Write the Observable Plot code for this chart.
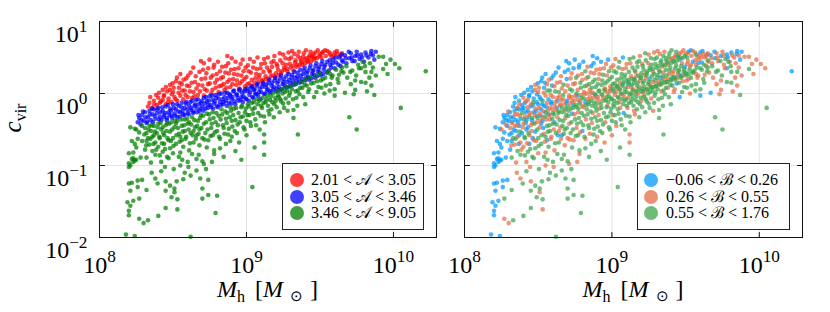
<!DOCTYPE html>
<html><head><meta charset="utf-8">
<script src="https://cdn.jsdelivr.net/npm/d3@7"></script>
<script src="https://cdn.jsdelivr.net/npm/@observablehq/plot@0.6"></script>
<style>
body{margin:0;background:#fff;}
#wrap{position:relative;width:830px;height:312px;overflow:hidden;font-family:"Liberation Serif","Times New Roman",serif;}
.panel{position:absolute;top:0;}
.legend{position:absolute;box-sizing:border-box;border:1.3px solid #222;background:#fff;font-size:16px;font-family:"Liberation Serif","Times New Roman",serif;color:#000;padding-top:8px;}
.row{height:16.5px;line-height:16.5px;position:relative;padding-left:28px;white-space:nowrap;}
.sw{position:absolute;top:1px;width:14px;height:14px;border-radius:50%;}
</style></head>
<body><div id="wrap"></div>
<script>
// Each point: [log10 M_h, log10 c_vir, B-group (0: -0.06<B<0.26, 1: 0.26<B<0.55, 2: 0.55<B<1.76)]
const redA = [[8.33,-0.18,0],[8.34,-0.13,0],[8.36,-0.20,1],[8.37,-0.10,0],[8.39,-0.16,0],[8.40,-0.06,1],[8.41,-0.13,0],[8.43,0.05,0],[8.43,-0.09,1],[8.44,-0.02,0],[8.45,-0.15,1],[8.46,0.03,0],[8.47,-0.07,0],[8.48,0.12,1],[8.49,-0.12,0],[8.50,0.02,1],[8.51,-0.05,0],[8.52,0.17,0],[8.53,-0.10,2],[8.54,0.08,0],[8.55,0.27,0],[8.55,-0.03,1],[8.56,0.13,1],[8.57,-0.08,0],[8.58,0.04,2],[8.59,0.21,0],[8.60,-0.05,1],[8.61,0.10,1],[8.62,0.29,0],[8.63,-0.06,1],[8.64,0.02,2],[8.65,0.16,1],[8.66,0.07,1],[8.67,-0.02,2],[8.68,0.30,0],[8.69,0.45,0],[8.70,0.11,1],[8.71,0.42,0],[8.71,-0.03,1],[8.72,0.21,1],[8.73,0.04,2],[8.74,0.35,0],[8.75,0.14,1],[8.76,0.00,2],[8.77,0.25,1],[8.78,0.40,0],[8.79,0.08,2],[8.80,0.19,1],[8.81,0.02,1],[8.82,0.31,2],[8.83,0.11,1],[8.84,0.23,2],[8.85,0.05,1],[8.86,0.38,0],[8.87,0.52,0],[8.87,0.16,2],[8.88,0.28,1],[8.89,0.09,2],[8.90,0.49,0],[8.91,0.20,1],[8.92,0.34,1],[8.93,0.12,2],[8.94,0.26,2],[8.95,0.07,1],[8.96,0.41,1],[8.97,0.17,2],[8.98,0.31,2],[8.99,0.10,1],[9.00,0.23,2],[9.01,0.39,1],[9.02,0.14,2],[9.03,0.29,2],[9.04,0.10,1],[9.05,0.44,2],[9.06,0.21,2],[9.07,0.34,1],[9.08,0.16,2],[9.09,0.26,2],[9.10,0.41,1],[9.11,0.19,2],[9.12,0.48,2],[9.13,0.24,1],[9.14,0.36,2],[9.15,0.20,2],[9.16,0.30,1],[9.17,0.43,2],[9.18,0.25,2],[9.19,0.52,1],[9.20,0.28,2],[9.21,0.38,2],[9.22,0.26,1],[9.23,0.46,2],[9.24,0.31,2],[9.25,0.54,1],[9.26,0.33,2],[9.27,0.40,2],[9.28,0.30,1],[9.29,0.48,2],[9.30,0.36,2],[9.31,0.59,1],[9.32,0.32,2],[9.33,0.43,2],[9.34,0.37,1],[9.35,0.52,2],[9.36,0.39,2],[9.37,0.45,2],[9.38,0.40,1],[9.39,0.56,2],[9.40,0.42,2],[9.41,0.49,1],[9.42,0.44,2],[9.43,0.53,1],[9.44,0.45,2],[9.45,0.50,2],[9.46,0.47,0],[9.47,0.57,1],[9.48,0.49,2],[9.50,0.55,1],[9.51,0.50,2],[9.52,0.58,0],[9.54,0.52,1],[9.55,0.59,1],[9.57,0.54,2],[9.58,0.51,1],[9.60,0.57,0],[9.62,0.55,1],[9.65,0.56,1],
[8.345,-0.05,0],[8.372,-0.15,1],[8.385,-0.02,0],[8.405,0.01,0],[8.418,-0.11,1],[8.437,-0.04,0],[8.452,0.09,0],[8.466,-0.12,2],[8.478,0.05,1],[8.492,-0.01,0],[8.497,0.14,0],
[8.505,0.08,1],[8.518,-0.08,0],[8.527,0.22,0],[8.538,0.01,1],[8.546,0.15,0],[8.563,0.04,2],[8.572,0.19,1],[8.585,-0.02,1],[8.594,0.11,0],[8.603,0.25,0],[8.615,0.03,2],[8.627,0.15,1],[8.638,0.36,0],[8.646,-0.04,1],[8.655,0.24,1],[8.672,0.12,2],[8.684,0.03,1],[8.693,0.20,0],
[8.704,0.33,0],[8.716,0.06,2],[8.727,0.28,1],[8.738,0.13,1],[8.748,0.47,0],[8.757,0.22,2],[8.768,0.05,1],[8.776,0.36,0],[8.786,0.15,2],[8.797,0.27,1],[8.806,0.44,0],[8.815,0.10,2],[8.826,0.21,1],[8.834,0.37,1],[8.845,0.13,2],[8.856,0.29,1],[8.864,0.08,2],[8.876,0.42,0],[8.884,0.19,2],[8.895,0.33,1],[8.904,0.13,2],[8.915,0.27,1],[8.926,0.44,0],[8.935,0.18,2],[8.946,0.35,1],[8.955,0.14,2],[8.966,0.25,1],[8.974,0.47,0],[8.985,0.20,2],[8.994,0.36,1],
[9.006,0.13,2],[9.015,0.31,2],[9.024,0.48,1],[9.036,0.19,2],[9.045,0.36,2],[9.054,0.15,1],[9.066,0.27,2],[9.075,0.50,0],[9.084,0.22,2],[9.095,0.35,1],[9.104,0.17,2],[9.116,0.30,2],[9.125,0.42,1],[9.134,0.20,2],[9.146,0.50,2],[9.155,0.32,2],[9.165,0.24,1],[9.174,0.37,2],[9.185,0.45,2],[9.196,0.22,2],[9.205,0.41,1],[9.215,0.33,2],[9.226,0.56,2],[9.235,0.28,2],[9.246,0.42,1],[9.256,0.36,2],[9.265,0.49,2],[9.276,0.34,2],[9.286,0.57,1],[9.295,0.41,2],
[9.305,0.50,2],[9.316,0.38,2],[9.326,0.55,1],[9.335,0.46,2],[9.346,0.40,2],[9.356,0.58,1],[9.366,0.49,2],[9.376,0.43,2],[9.386,0.51,2],[9.396,0.47,1],[9.405,0.60,2],[9.416,0.45,2],[9.426,0.50,1],[9.436,0.58,2],[9.446,0.52,2],[9.456,0.55,1],[9.467,0.50,2],[9.485,0.60,1],[9.495,0.52,2],[9.515,0.56,1],[9.535,0.60,0],[9.565,0.57,1],[9.595,0.53,1],[9.615,0.59,0],[9.640,0.52,1]];

const blueA = [[8.26,-0.40,0],[8.27,-0.34,0],[8.28,-0.43,1],[8.29,-0.30,0],[8.30,-0.38,0],[8.31,-0.26,0],[8.32,-0.41,1],[8.33,-0.33,0],[8.34,-0.24,0],[8.35,-0.37,0],[8.36,-0.29,1],[8.37,-0.22,0],[8.38,-0.35,0],[8.39,-0.27,2],[8.40,-0.20,0],[8.41,-0.32,1],[8.42,-0.37,0],[8.43,-0.24,0],[8.44,-0.30,1],[8.45,-0.18,0],[8.46,-0.34,2],[8.47,-0.26,0],[8.48,-0.21,1],[8.49,-0.31,0],[8.50,-0.15,0],[8.51,-0.28,1],[8.52,-0.22,0],[8.53,-0.33,1],[8.54,-0.17,0],[8.55,-0.26,2],[8.56,-0.13,1],[8.57,-0.29,0],[8.58,-0.20,1],[8.59,-0.12,0],[8.60,-0.27,2],[8.61,-0.17,1],[8.62,-0.23,1],[8.63,-0.10,0],[8.64,-0.25,2],[8.65,-0.15,1],[8.66,-0.20,2],[8.67,-0.08,1],[8.68,-0.24,1],[8.69,-0.13,0],[8.70,-0.18,2],[8.71,-0.06,1],[8.72,-0.21,2],[8.73,-0.11,1],[8.74,-0.16,0],[8.75,-0.04,1],[8.76,-0.19,2],[8.77,-0.09,1],[8.78,-0.14,2],[8.79,-0.02,1],[8.80,-0.17,1],[8.81,-0.07,2],[8.82,-0.12,0],[8.83,0.00,1],[8.84,-0.15,2],[8.85,-0.05,1],[8.86,-0.10,2],[8.87,0.01,1],[8.88,-0.13,2],[8.89,-0.03,0],[8.90,-0.08,1],[8.91,0.03,2],[8.92,-0.11,1],[8.93,-0.01,2],[8.94,-0.06,1],[8.95,0.04,2],[8.96,-0.09,2],[8.97,0.01,1],[8.98,-0.04,2],[8.99,0.06,1],[9.00,-0.08,2],[9.01,0.03,2],[9.02,-0.02,1],[9.03,0.08,2],[9.04,-0.05,2],[9.05,0.05,1],[9.06,0.00,2],[9.07,0.11,2],[9.08,-0.03,1],[9.09,0.07,2],[9.10,0.02,2],[9.11,0.13,0],[9.12,-0.01,2],[9.13,0.09,1],[9.14,0.04,2],[9.15,0.15,2],[9.16,0.01,1],[9.17,0.11,2],[9.18,0.06,2],[9.19,0.18,1],[9.20,0.03,2],[9.21,0.14,2],[9.22,0.09,2],[9.23,0.21,1],[9.24,0.06,2],[9.25,0.16,2],[9.26,0.11,1],[9.27,0.24,2],[9.28,0.09,2],[9.29,0.19,2],[9.30,0.14,1],[9.31,0.26,2],[9.32,0.12,2],[9.33,0.22,0],[9.34,0.17,2],[9.35,0.29,1],[9.36,0.15,2],[9.37,0.25,2],[9.38,0.20,1],[9.39,0.32,2],[9.40,0.18,2],[9.41,0.28,1],[9.42,0.23,2],[9.43,0.35,2],[9.44,0.21,1],[9.45,0.31,2],[9.46,0.26,0],[9.47,0.38,2],[9.48,0.24,1],[9.49,0.34,2],[9.50,0.29,2],[9.51,0.41,1],[9.52,0.27,2],[9.53,0.37,1],[9.55,0.44,0],[9.56,0.32,2],[9.57,0.40,1],[9.59,0.47,1],[9.60,0.35,2],[9.61,0.43,0],[9.63,0.50,1],[9.64,0.38,1],[9.65,0.46,2],[9.67,0.53,0],[9.68,0.42,1],[9.70,0.49,0],[9.71,0.56,1],[9.72,0.45,1],[9.74,0.52,0],[9.75,0.58,1],[9.77,0.48,2],[9.78,0.54,0],[9.80,0.44,1],[9.81,0.57,0],[9.83,0.50,1],[9.85,0.59,0],[9.86,0.53,1],[9.87,0.47,0],[9.88,0.58,0],
[8.265,-0.30,0],[8.284,-0.37,0],[8.296,-0.25,1],[8.313,-0.33,0],[8.325,-0.39,0],[8.342,-0.29,1],[8.357,-0.21,0],[8.364,-0.40,0],[8.376,-0.31,1],[8.393,-0.22,0],[8.404,-0.36,2],[8.415,-0.26,0],[8.427,-0.19,1],[8.436,-0.33,0],[8.447,-0.27,1],[8.458,-0.37,0],[8.465,-0.16,0],[8.476,-0.30,1],[8.487,-0.24,0],[8.495,-0.34,2],[8.506,-0.20,1],[8.517,-0.31,0],[8.528,-0.15,0],[8.536,-0.25,1],[8.548,-0.32,2],[8.557,-0.19,0],[8.566,-0.24,1],[8.578,-0.30,1],[8.588,-0.14,0],[8.596,-0.22,1],
[8.607,-0.29,2],[8.618,-0.12,1],[8.626,-0.20,0],[8.637,-0.27,2],[8.648,-0.17,1],[8.657,-0.09,1],[8.664,-0.26,2],[8.676,-0.15,1],[8.687,-0.21,2],[8.696,-0.10,0],[8.706,-0.24,2],[8.716,-0.14,1],[8.725,-0.05,1],[8.736,-0.20,2],[8.744,-0.10,1],[8.755,-0.16,2],[8.766,-0.03,0],[8.774,-0.21,2],[8.785,-0.11,1],[8.794,-0.06,2],[8.805,-0.19,1],[8.814,-0.01,1],[8.825,-0.16,2],[8.836,-0.08,1],[8.845,-0.12,2],[8.856,0.01,1],[8.866,-0.17,2],[8.874,-0.06,1],[8.885,-0.01,2],[8.896,-0.14,2],[8.905,-0.05,1],[8.915,0.04,2],[8.924,-0.15,2],[8.936,-0.02,1],[8.946,-0.10,2],[8.955,0.06,1],[8.966,-0.05,2],[8.975,-0.12,2],[8.986,0.03,1],[8.994,-0.07,2],
[9.005,0.07,2],[9.016,-0.10,2],[9.026,0.02,1],[9.036,0.10,2],[9.046,-0.06,2],[9.056,0.06,2],[9.066,-0.01,1],[9.075,0.13,2],[9.086,0.02,2],[9.095,-0.08,2],[9.106,0.09,1],[9.116,0.15,2],[9.126,0.00,2],[9.136,0.12,2],[9.146,0.06,1],[9.156,0.19,2],[9.166,0.03,2],[9.175,0.15,2],[9.186,0.09,1],[9.196,0.22,2],[9.206,0.07,2],[9.216,0.17,2],[9.226,0.04,1],[9.236,0.25,2],[9.246,0.13,2],[9.256,0.20,0],[9.266,0.08,2],[9.276,0.16,1],[9.286,0.27,2],[9.296,0.10,2],[9.306,0.22,2],[9.316,0.17,1],[9.326,0.30,2],[9.336,0.13,2],[9.346,0.24,2],[9.356,0.20,1],[9.366,0.33,2],[9.376,0.16,2],[9.386,0.27,1],[9.396,0.36,2],[9.406,0.22,2],[9.416,0.31,1],[9.426,0.19,2],[9.436,0.39,2],[9.446,0.27,1],[9.456,0.33,2],[9.466,0.22,2],[9.476,0.42,1],[9.486,0.30,2],[9.496,0.37,0],[9.506,0.25,2],[9.516,0.45,1],[9.526,0.33,2],[9.536,0.40,1],[9.546,0.29,2],[9.566,0.46,1],[9.576,0.36,2],[9.586,0.42,0],[9.606,0.50,1],[9.626,0.40,2],[9.646,0.54,0],[9.656,0.44,1],[9.676,0.49,1],[9.696,0.58,0],[9.716,0.50,1],[9.736,0.45,2],[9.756,0.53,1],[9.786,0.50,0],[9.816,0.53,1],[9.846,0.55,0]];

const greenA = [[8.18,-1.96,0],[8.24,-1.98,0],[8.19,-1.51,0],[8.20,-1.63,0],[8.21,-1.56,0],[8.23,-1.49,0],[8.20,-1.69,0],[8.20,-1.25,0],[8.22,-1.24,0],[8.26,-1.21,0],[8.29,-1.20,0],[8.27,-1.74,1],[8.30,-1.80,1],[8.33,-1.76,2],[8.21,-1.35,0],[8.24,-0.93,0],[8.23,-0.90,0],[8.22,-0.91,0],[8.25,-0.92,0],[8.23,-0.95,0],[8.21,-1.00,0],[8.20,-0.97,0],[8.20,-1.02,0],[8.23,-0.82,0],[8.25,-0.75,0],[8.24,-0.70,0],[8.26,-0.63,0],[8.27,-0.54,0],[8.25,-0.50,1],[8.29,-0.45,0],[8.21,-0.47,0],[8.24,-0.49,0],[8.22,-0.66,0],[8.20,-0.83,0],[8.28,-0.89,0],[8.27,-1.46,2],[8.26,-1.30,0],[8.32,-1.34,2],
[8.31,-0.48,1],[8.32,-0.55,0],[8.33,-0.62,2],[8.32,-0.66,0],[8.34,-0.71,1],[8.31,-0.78,0],[8.35,-0.52,0],[8.36,-0.80,2],[8.36,-0.60,1],[8.37,-0.45,0],[8.38,-0.68,1],[8.38,-0.85,2],[8.39,-0.55,0],[8.40,-0.74,1],[8.40,-0.42,1],[8.41,-0.62,2],[8.42,-0.95,1],[8.42,-0.50,0],[8.43,-0.81,2],[8.44,-0.58,1],[8.44,-0.70,0],[8.45,-0.44,1],[8.45,-1.22,1],[8.45,-1.35,2],[8.45,-1.59,2],[8.46,-0.88,2],[8.47,-0.65,1],[8.47,-0.90,2],[8.48,-0.76,2],[8.48,-0.53,0],[8.48,-1.28,2],[8.49,-0.40,1],[8.49,-1.44,2],[8.50,-0.62,2],[8.50,-0.83,1],[8.38,-1.18,1],[8.40,-1.70,2],[8.42,-1.08,2],[8.29,-0.66,0],[8.32,-0.89,2],[8.35,-0.96,1],[8.34,-0.45,1],[8.37,-0.58,0],[8.43,-0.47,0],[8.46,-0.41,1],[8.41,-0.86,2],
[8.51,-1.32,2],[8.51,-1.37,1],[8.51,-0.47,1],[8.52,-0.70,2],[8.53,-1.47,2],[8.53,-1.61,1],[8.53,-0.38,0],[8.54,-0.56,1],[8.54,-0.88,2],[8.55,-0.82,1],[8.55,-1.00,1],[8.56,-0.45,2],[8.56,-0.65,0],[8.57,-1.19,2],[8.57,-0.74,2],[8.58,-1.10,2],[8.58,-0.36,1],[8.58,-0.52,2],[8.59,-0.60,1],[8.60,-0.95,2],[8.60,-0.42,2],[8.61,-0.79,1],[8.62,-1.14,2],[8.62,-0.55,2],[8.63,-0.84,2],[8.63,-0.33,1],[8.64,-0.68,2],[8.65,-0.47,1],[8.66,-1.07,2],[8.66,-0.91,2],[8.66,-0.58,0],[8.67,-0.38,2],[8.68,-0.72,1],[8.68,-0.50,2],[8.69,-0.30,2],[8.70,-0.94,2],[8.70,-1.32,2],[8.70,-1.46,2],[8.70,-0.62,1],[8.71,-0.98,1],[8.52,-0.42,0],[8.55,-0.60,2],[8.61,-0.40,0],[8.64,-0.52,1],[8.62,-1.99,2],
[8.71,-0.42,1],[8.72,-0.55,2],[8.73,-0.75,2],[8.73,-0.28,0],[8.74,-1.20,2],[8.74,-1.41,2],[8.74,-0.65,1],[8.75,-0.36,2],[8.76,-0.48,1],[8.77,-0.58,2],[8.77,-0.26,1],[8.78,-0.84,1],[8.78,-0.79,2],[8.79,-1.66,2],[8.79,-0.40,2],[8.80,-1.42,2],[8.80,-0.52,0],[8.81,-0.31,2],[8.82,-0.76,2],[8.82,-0.63,1],[8.83,-0.22,2],[8.84,-0.44,2],[8.85,-0.56,1],[8.86,-0.35,2],[8.86,-0.70,2],[8.87,-0.27,1],[8.88,-0.49,2],[8.89,-0.19,2],[8.89,-0.66,2],[8.90,-0.60,1],[8.90,-0.38,2],[8.91,-0.30,1],[8.92,-0.52,2],[8.93,-0.20,2],[8.94,-0.43,2],[8.95,-0.68,1],[8.96,-0.33,2],[8.97,-0.17,1],[8.98,-0.47,2],[8.99,-0.26,2],[9.00,-0.58,1],[9.00,-0.38,2],
[9.01,-0.15,2],[9.02,-0.30,2],[9.03,-0.45,1],[9.04,-1.30,2],[9.04,-0.22,2],[9.05,-0.12,1],[9.06,-0.36,2],[9.07,-0.08,2],[9.08,-0.27,0],[9.09,-0.50,2],[9.10,-0.17,2],[9.11,-0.06,1],[9.12,-0.57,1],[9.12,-0.68,1],[9.12,-0.85,2],[9.12,-0.32,2],[9.13,-0.12,2],[9.14,-0.03,2],[9.15,-0.24,1],[9.16,-0.09,2],[9.17,-0.22,2],[9.18,0.00,1],[9.19,-0.15,2],[9.20,-0.10,1],[9.21,0.03,2],[9.22,-0.05,2],[9.23,-0.08,2],[9.24,0.06,1],[9.25,-0.14,2],[9.26,0.02,2],[9.27,0.09,2],[9.28,-0.24,1],[9.29,-0.03,2],[9.30,0.10,2],[9.31,0.06,2],[9.32,-0.34,2],[9.32,-0.23,2],[9.33,0.13,1],[9.34,-0.06,2],[9.35,-0.57,2],[9.35,0.04,2],[9.36,-0.01,2],[9.37,0.16,2],[9.38,0.08,1],[9.40,-0.15,2],[9.40,0.19,2],
[9.41,0.11,2],[9.42,0.02,1],[9.43,0.22,2],[9.44,0.14,0],[9.46,-0.05,0],[9.47,0.24,2],[9.48,0.17,1],[9.49,0.09,2],[9.50,0.27,2],[9.51,0.08,2],[9.52,0.20,1],[9.53,0.00,1],[9.54,0.11,2],[9.55,0.30,2],[9.57,0.13,2],[9.57,0.27,1],[9.58,0.22,1],[9.60,-0.03,0],[9.60,0.06,2],[9.61,0.33,2],[9.62,0.20,2],[9.63,0.26,1],[9.65,0.36,2],[9.66,0.29,1],[9.67,0.01,0],[9.68,0.38,2],[9.70,-0.33,2],[9.71,0.13,1],[9.72,0.32,2],[9.73,-0.01,1],[9.74,0.18,1],[9.74,0.05,1],[9.75,-0.50,2],[9.76,0.40,1],[9.78,0.35,0],[9.78,0.16,2],[9.79,0.44,2],[9.81,0.30,2],[9.81,0.15,2],[9.82,0.03,1],[9.84,0.42,1],[9.85,0.11,1],[9.85,0.30,2],[9.86,0.36,1],[9.87,-0.02,2],[9.88,0.25,1],[9.90,0.51,1],[9.93,0.51,1],[9.93,0.34,2],[9.95,0.41,1],[9.96,0.27,1],[9.98,0.47,1],[10.01,0.41,1],[10.04,0.35,1],[10.05,-0.20,2],[10.22,0.31,0],
[8.305,-0.57,0],[8.318,-0.72,1],[8.334,-0.50,0],[8.347,-0.63,2],[8.356,-0.44,1],[8.368,-0.70,0],[8.377,-0.53,2],[8.386,-0.78,1],[8.396,-0.47,1],[8.407,-0.60,2],[8.416,-0.41,0],[8.425,-0.69,1],[8.434,-0.55,2],[8.446,-0.77,2],[8.455,-0.52,1],[8.463,-0.62,0],[8.474,-0.42,2],[8.486,-0.66,1],[8.494,-0.50,2],[8.503,-0.73,2],[8.515,-0.38,1],[8.523,-0.58,2],[8.534,-0.48,0],[8.545,-0.67,1],[8.556,-0.36,1],[8.566,-0.53,2],[8.576,-0.44,2],[8.585,-0.63,1],[8.596,-0.35,2],[8.606,-0.50,1],[8.615,-0.69,2],[8.624,-0.43,2],[8.634,-0.58,0],[8.646,-0.37,2],[8.655,-0.63,1],[8.665,-0.45,2],[8.674,-0.56,2],[8.684,-0.34,1],[8.694,-0.48,2],[8.705,-0.31,2],[8.714,-0.64,1],[8.725,-0.40,2],[8.735,-0.50,2],[8.746,-0.29,1],[8.755,-0.59,2],[8.764,-0.42,2],[8.776,-0.34,2],[8.784,-0.54,1],[8.795,-0.27,2],[8.806,-0.44,2],[8.814,-0.60,2],[8.824,-0.36,1],[8.835,-0.29,2],[8.845,-0.48,2],[8.856,-0.25,2],[8.865,-0.41,1],[8.875,-0.57,2],[8.886,-0.33,2],[8.895,-0.24,2],[8.904,-0.46,2],[8.914,-0.21,1],[8.926,-0.37,2],[8.935,-0.55,2],[8.946,-0.27,2],[8.955,-0.40,1],[8.964,-0.19,2],[8.976,-0.32,2],[8.986,-0.50,2],[8.995,-0.21,2],
[9.006,-0.30,1],[9.016,-0.18,2],[9.026,-0.40,2],[9.036,-0.13,2],[9.046,-0.28,2],[9.056,-0.20,1],[9.066,-0.44,2],[9.076,-0.15,2],[9.086,-0.10,2],[9.096,-0.31,2],[9.106,-0.20,1],[9.116,-0.13,2],[9.126,-0.40,2],[9.136,-0.08,2],[9.146,-0.17,2],[9.156,-0.29,1],[9.166,-0.04,2],[9.176,-0.12,2],[9.186,-0.33,2],[9.196,-0.06,2],[9.206,-0.19,2],[9.216,-0.02,1],[9.226,-0.26,2],[9.236,-0.11,2],[9.246,0.00,2],[9.256,-0.20,2],[9.266,-0.07,1],[9.276,0.04,2],[9.286,-0.13,2],[9.296,0.01,2],[9.316,-0.08,2],[9.336,0.03,1],[9.346,-0.17,2],[9.366,0.08,2],[9.386,-0.05,2],[9.396,0.12,2],[9.426,0.06,1],[9.456,0.15,2],[9.476,0.02,2],[9.506,0.18,1],[9.536,0.22,2],[9.566,0.04,2],[9.586,0.25,1],[9.626,0.15,2],[9.646,0.31,2],[9.686,0.22,1],[9.706,0.30,2],[9.746,0.25,2],[9.766,0.35,1],[9.806,0.38,2],[9.836,0.22,1],
[8.563,-0.92,2],[8.605,-1.02,1],[8.675,-0.85,2],[8.725,-1.05,2],[8.765,-0.95,1],[8.845,-0.88,2],[8.925,-0.80,2],[8.965,-0.92,2],[9.055,-0.75,2],[8.685,-1.18,2],[8.505,-1.05,2],[8.445,-1.02,1],[8.395,-1.25,2],[8.355,-1.10,1],[8.525,-1.22,2]];

const xTicks = [1e8, 1e9, 1e10];
const yTicks = [1e-2, 1e-1, 1e0, 1e1];
const xDomain = [1e8, 10 ** 10.293];
const yDomain = [1e-2, 10];
const legendA = ["2.01 < 𝒜 < 3.05", "3.05 < 𝒜 < 3.46", "3.46 < 𝒜 < 9.05"];
const legendB = ["\u22120.06 < ℬ < 0.26", "0.26 < ℬ < 0.55", "0.55 < ℬ < 1.76"];
const colorsA = ["#ff0000", "#0000ff", "#008000"];
const colorsB = ["#009afa", "#e26f46", "#3da44d"];

const OP = 0.72;
const FONT = "'Liberation Serif', 'Times New Roman', serif";
const ns = "http://www.w3.org/2000/svg";
const tickShape = {draw(ctx, l) { ctx.moveTo(0, 0); ctx.lineTo(0, -l); }};

function frameTicks() {
  const st = {stroke: "#111", strokeWidth: 1, length: 5, anchor: "start", shape: tickShape};
  return [
    Plot.vector(xTicks, {...st, x: d => d, y: () => yDomain[0], rotate: 0}),
    Plot.vector(xTicks, {...st, x: d => d, y: () => yDomain[1], rotate: 180}),
    Plot.vector(yTicks, {...st, y: d => d, x: () => xDomain[0], rotate: 90}),
    Plot.vector(yTicks, {...st, y: d => d, x: () => xDomain[1], rotate: -90})
  ];
}
const expFmt = d => "10^" + String(Math.round(Math.log10(d))).replace("-", "\u2212");

function panel(series, colors, showY, w, ml, mr) {
  const marks = [
    Plot.gridX(xTicks, {x: d => d, stroke: "#e3e3e3", strokeOpacity: 1}),
    Plot.gridY(yTicks, {y: d => d, stroke: "#e3e3e3", strokeOpacity: 1}),
    ...series.map((s, i) => Plot.dot(s, {x: d => 10 ** d[0], y: d => 10 ** d[1], r: 2.3, fill: colors[i], fillOpacity: OP, stroke: "none"})),
    Plot.frame({stroke: "#111", strokeWidth: 1}),
    ...frameTicks(),
    Plot.axisX(xTicks, {tickSize: 0, tickPadding: 18, tickFormat: expFmt, label: null, fontSize: 24})
  ];
  if (showY) marks.push(Plot.axisY(yTicks, {tickSize: 0, tickPadding: 12, tickFormat: expFmt, label: null, fontSize: 24}));
  const svg = Plot.plot({
    width: w, height: 312, marginLeft: ml, marginRight: mr, marginTop: 21, marginBottom: 75,
    x: {type: "log", domain: xDomain},
    y: {type: "log", domain: yDomain, axis: showY ? undefined : null},
    style: {fontFamily: FONT, fontSize: "24px", color: "#000", background: "transparent"},
    marks
  });
  svg.querySelectorAll('g[aria-label$="tick label"] text').forEach(t => {
    const s = t.textContent; if (!s.includes("^")) return;
    const [b, e] = s.split("^");
    while (t.firstChild) t.removeChild(t.firstChild);
    const a = document.createElementNS(ns, "tspan"); a.textContent = b; t.appendChild(a);
    const c = document.createElementNS(ns, "tspan"); c.textContent = e;
    c.setAttribute("dy", "-0.6em"); c.setAttribute("font-size", "0.72em"); t.appendChild(c);
  });
  svg.querySelectorAll('g[aria-label="y-axis tick label"] text').forEach(t => t.setAttribute("dy", "0.55em"));
  const cx = ml + (w - ml - mr) / 2;
  const xl = document.createElementNS(ns, "text");
  xl.setAttribute("x", cx); xl.setAttribute("y", 297); xl.setAttribute("text-anchor", "middle");
  xl.setAttribute("font-size", "24"); xl.setAttribute("font-family", FONT);
  xl.innerHTML = '<tspan font-style="italic">M</tspan><tspan font-size="16" dy="5">h</tspan><tspan dy="-5" dx="10">[</tspan><tspan font-style="italic">M</tspan><tspan font-size="15" dy="4" dx="7">⊙</tspan><tspan dy="-4" dx="7">]</tspan>';
  svg.appendChild(xl);
  if (showY) {
    const yl = document.createElementNS(ns, "text");
    yl.setAttribute("transform", "translate(21,118) rotate(-90)"); yl.setAttribute("text-anchor", "middle");
    yl.setAttribute("font-size", "25"); yl.setAttribute("font-family", FONT);
    yl.innerHTML = '<tspan font-style="italic">c</tspan><tspan font-size="16" dy="5">vir</tspan>';
    svg.appendChild(yl);
  }
  return svg;
}

function legend(labels, colors, left, width, swLeft) {
  const d = document.createElement("div");
  d.className = "legend";
  Object.assign(d.style, {left: left + "px", top: "163px", width: width + "px", height: "67px"});
  labels.forEach((lab, i) => {
    const r = document.createElement("div"); r.className = "row";
    const sw = document.createElement("span"); sw.className = "sw";
    sw.style.left = swLeft + "px"; sw.style.background = colors[i]; sw.style.opacity = OP + 0.03;
    r.appendChild(sw); r.appendChild(document.createTextNode(lab)); d.appendChild(r);
  });
  return d;
}

const wrap = document.getElementById("wrap");
const left = panel([redA, blueA, greenA], colorsA, true, 440, 99, 4);
left.classList.add("panel"); left.style.left = "0px";
wrap.appendChild(left);
const all = [...redA, ...blueA, ...greenA];
const byB = [0, 1, 2].map(k => all.filter(d => d[2] === k));
const right = panel(byB, colorsB, false, 390, 24, 28);
right.classList.add("panel"); right.style.left = "440px";
wrap.appendChild(right);
wrap.appendChild(legend(legendA, colorsA, 282, 142, 7));
wrap.appendChild(legend(legendB, colorsB, 637, 153, 6));
</script></body></html>
